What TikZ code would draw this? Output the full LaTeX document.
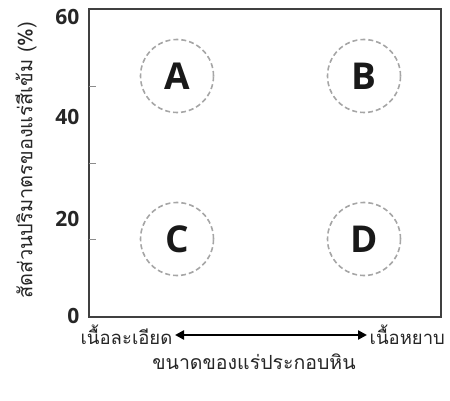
\documentclass[tikz,border=0pt]{standalone}
\usepackage{fontspec}
\setmainfont{Open Sans}
\newfontfamily\thai[Script=Thai]{Loma}
\usetikzlibrary{arrows.meta}
\begin{document}
\begin{tikzpicture}[x=1pt,y=-1pt,
  frame/.style={draw=black!75,line width=1.6pt},
  tickmark/.style={draw=black!45,line width=0.8pt},
  zone/.style={circle,draw=black!35,dashed,dash pattern=on 5pt off 3pt,line width=1.6pt,minimum size=73pt,inner sep=0pt,font=\fontsize{37}{37}\selectfont\bfseries,text=black!90},
  num/.style={font=\fontsize{21}{21}\selectfont\bfseries,text=black!85,anchor=east},
  thaitext/.style={font=\thai\fontsize{18.5}{20}\selectfont,text=black!85,inner sep=2.5pt}]
\useasboundingbox (0,0) rectangle (450,401);
\coordinate (bl) at (89,317);
\coordinate (tr) at (441,9);
\draw[frame] (bl) rectangle (tr);
\foreach \y in {86,163,239} \draw[tickmark] (89,\y) -- (96,\y);
\node[num] (n60) at (83,17) {60};
\node[num] (n40) at (83,117) {40};
\node[num] (n20) at (83,219) {20};
\node[num] (n0) at (83,316) {0};
\node[zone] (A) at (177,76) {A};
\node[zone] (B) at (364,76) {B};
\node[zone] (C) at (177,239) {C};
\node[zone] (D) at (364,239) {D};
\node[thaitext,anchor=east] (fine) at (175,335) {เนื้อละเอียด};
\node[thaitext,anchor=west] (coarse) at (367,335) {เนื้อหยาบ};
\draw[line width=2.6pt,{Triangle[length=9pt,width=9pt]}-{Triangle[length=9pt,width=9pt]}] (fine.east) -- (coarse.west);
\node[thaitext,font=\thai\fontsize{19.5}{22}\selectfont] (xl) at (254,362) {ขนาดของแร่ประกอบหิน};
\node[thaitext,font=\thai\fontsize{20}{22}\selectfont,rotate=90] (yl) at (26,160) {สัดส่วนปริมาตรของแร่สีเข้ม (\%)};
\end{tikzpicture}
\end{document}
